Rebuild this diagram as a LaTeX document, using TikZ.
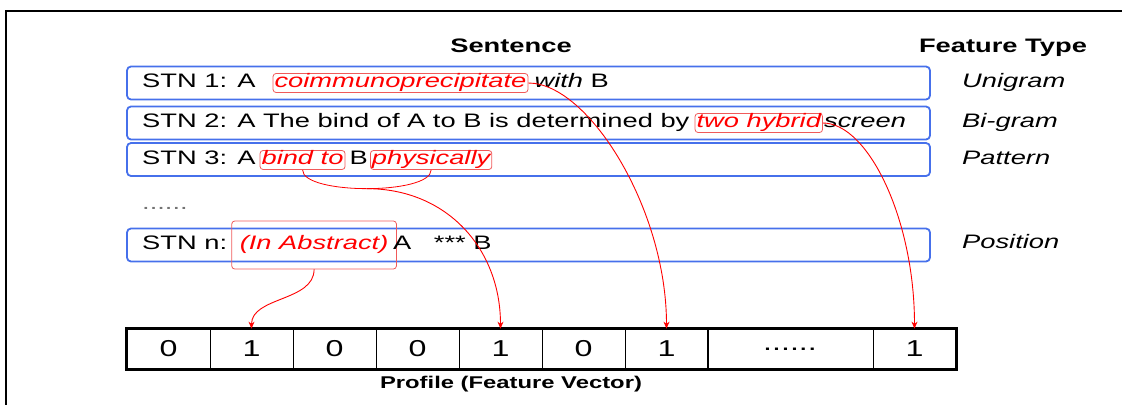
\documentclass[tikz,border=0pt]{standalone}
\usepackage{fontspec}
\setmainfont[FakeStretch=1.4]{Liberation Sans}
\usetikzlibrary{positioning}
\usetikzlibrary{arrows.meta}
\definecolor{boxblue}{RGB}{70,112,235}
\definecolor{kwred}{RGB}{255,0,0}
\definecolor{boxred}{RGB}{240,90,90}

\begin{document}
\begin{tikzpicture}[x=1pt,y=-1pt,
  txt/.style={inner sep=0pt, text height=13pt, text depth=4pt, anchor=west,
              font=\fontsize{19.5}{22}\selectfont},
  kw/.style={txt, draw=boxred, rounded corners=3pt, text=kwred, line width=0.8pt,
             inner xsep=1.5pt, inner ysep=1pt, font=\fontsize{19.5}{22}\selectfont\itshape},
  ftype/.style={txt, font=\fontsize{19.5}{22}\selectfont\itshape},
  head/.style={inner sep=0pt, anchor=base, font=\fontsize{19.5}{22}\selectfont\bfseries},
  sbox/.style={draw=boxblue, line width=1.8pt, rounded corners=4pt, inner sep=0pt,
               minimum width=803pt, minimum height=33pt},
  cell/.style={draw, line width=0.8pt, inner sep=0pt, minimum width=83pt,
               minimum height=40pt, font=\fontsize{23}{24}\selectfont},
  link/.style={kwred, line width=0.9pt, -{Stealth[length=7pt,width=6pt]}}]

\useasboundingbox (0,0) rectangle (1122,405);

%---------------------------------------
% Frame and headings
%---------------------------------------
\draw[line width=2.5pt] (1122,11) -- (6,11) -- (6,405);

\node[head] (hsent) at (511,52) {Sentence};
\node[head] (htype) at (1003,52) {Feature Type};

%---------------------------------------
% Sentence boxes
%---------------------------------------
\node[sbox] (box1) at (528.5,83) {};
\node[sbox] (box2) at (528.5,123) {};
\node[sbox] (box3) at (528.5,159.5) {};
\node[sbox] (boxn) at (528.5,245) {};

% STN 1
\node[txt] (s1a) at (142,83) {STN 1: A};
\node[kw, right=17pt of s1a] (coim) {coimmunoprecipitate};
\node[txt, right=6pt of coim] (s1b) {\textit{with} B};

% STN 2
\node[txt] (s2a) at (142,123) {STN 2: A The bind of A to B is determined by};
\node[kw, right=5pt of s2a] (hyb) {two hybrid};
\node[txt, right=1pt of hyb] (s2b) {\textit{screen}};

% STN 3
\node[txt] (s3a) at (142,160) {STN 3: A};
\node[kw, right=4pt of s3a] (bind) {bind to};
\node[txt, right=4pt of bind] (s3b) {B};
\node[kw, right=2pt of s3b] (phys) {physically};

% skipped sentences
\node[txt, text=black!55] (gap) at (142,205) {......};

% STN n
\node[txt] (sna) at (142,245) {STN n:};
\node[kw, right=4pt of sna, minimum height=48pt, inner xsep=8pt] (abs) {(In Abstract)};
\node[txt, right=-4pt of abs] (snb) {A \ \ *** B};

%---------------------------------------
% Feature types
%---------------------------------------
\node[ftype] (tuni) at (962,83) {Unigram};
\node[ftype] (tbi)  at (962,123) {Bi-gram};
\node[ftype] (tpat) at (962,160) {Pattern};
\node[ftype] (tpos) at (962,244) {Position};

%---------------------------------------
% Profile vector
%---------------------------------------
\foreach \v [count=\i] in {0,1,0,0,1,0,1}
  \node[cell] (c\i) at ({127+83*(\i-1)+41.5},349) {\v};
\node[cell, minimum width=166pt] (c8) at (790,349) {......};
\node[cell] (c9) at (914.5,349) {1};
\draw[line width=2.5pt] (c1.north west) rectangle (c9.south east);

\node[inner sep=0pt, font=\fontsize{17}{20}\selectfont\bfseries] (prof) at (511,384)
  {Profile (Feature Vector)};

%---------------------------------------
% Arrows
%---------------------------------------
\draw[kwred, line width=0.8pt] (bind.south) .. controls +(0,25) and +(0,25) .. (phys.south)
  coordinate[pos=0.5] (patmid);

\draw[link] (abs.south) .. controls +(0,32) and +(0,-32) .. (c2.north);
\draw[link] (patmid) .. controls +(80,0) and +(0,-80) .. (c5.north);
\draw[link] (coim.east) .. controls +(60,0) and +(0,-120) .. (c7.north);
\draw[link] (hyb.east) .. controls +(45,0) and +(0,-110) .. (c9.north);

\end{tikzpicture}
\end{document}
